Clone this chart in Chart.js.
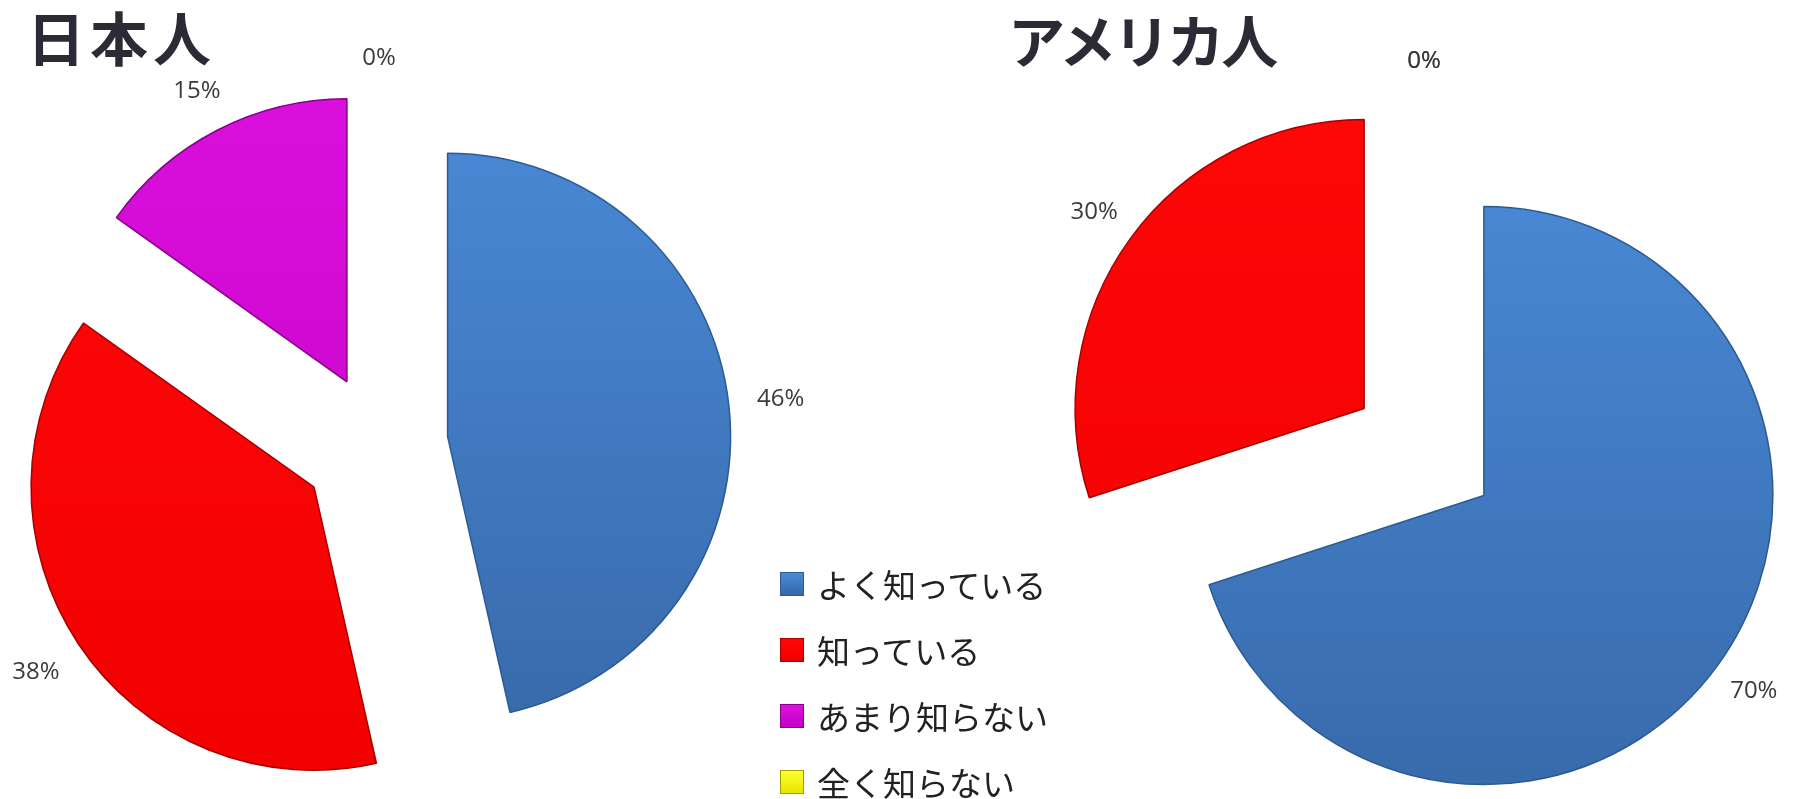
<!DOCTYPE html>
<html lang="ja">
<head>
<meta charset="utf-8">
<title>日本人・アメリカ人</title>
<script src="https://cdn.jsdelivr.net/npm/chart.js@4.4.1/dist/chart.umd.min.js"></script>
<style>
  html, body { margin: 0; padding: 0; background: #fff; }
  body { width: 1797px; height: 799px; position: relative; overflow: hidden; font-family: "Noto Sans CJK JP", sans-serif; }
  canvas { position: absolute; top: 0; }
  #jpChart { left: 0; }
  #usChart { left: 900px; }
  .title { position: absolute; font-weight: 700; color: #2b2b36; line-height: 60px; white-space: nowrap; }
  #jpTitle { left: 27px; top: 6px; font-size: 58px; letter-spacing: 5px; }
  #usTitle { left: 1008px; top: 8px; font-size: 57px; letter-spacing: -3px; }
  #legend { position: absolute; left: 780px; top: 551px; }
  .item { display: flex; align-items: center; height: 66px; }
  .swatch { width: 22px; height: 22px; border: 1px solid; margin-right: 13px; box-sizing: content-box; }
  .item span { font-size: 33px; color: #222; line-height: 40px; }
</style>
</head>
<body>
<div class="title" id="jpTitle"></div>
<div class="title" id="usTitle"></div>
<canvas id="jpChart" width="900" height="799"></canvas>
<canvas id="usChart" width="897" height="799"></canvas>
<div id="legend"></div>
<script>
var categories = ['よく知っている', '知っている', 'あまり知らない', '全く知らない'];
var japanValues = [46, 38, 15, 0];
var americaValues = [70, 30, 0, 0];
var japanTitle = '日本人';
var americaTitle = 'アメリカ人';

// light / dark / edge per category
var sliceColors = [
  { top: '#4b8bd9', bottom: '#3667a6', edge: '#2c5a92' },
  { top: '#ff0808', bottom: '#f00000', edge: '#a80000' },
  { top: '#dc12de', bottom: '#c400c6', edge: '#860088' },
  { top: '#ffff30', bottom: '#e6e600', edge: '#a0a000' }
];

document.getElementById('jpTitle').textContent = japanTitle;
document.getElementById('usTitle').textContent = americaTitle;

// legend
var legend = document.getElementById('legend');
categories.forEach(function(name, i) {
  var row = document.createElement('div');
  row.className = 'item';
  var sw = document.createElement('div');
  sw.className = 'swatch';
  sw.style.background = 'linear-gradient(' + sliceColors[i].top + ',' + sliceColors[i].bottom + ')';
  sw.style.borderColor = sliceColors[i].edge;
  var label = document.createElement('span');
  label.textContent = name;
  row.appendChild(sw);
  row.appendChild(label);
  legend.appendChild(row);
});

function sliceFill(context) {
  var c = sliceColors[context.dataIndex];
  var chart = context.chart;
  var area = chart.chartArea;
  if (!area) return c.top;
  var cy = (area.top + area.bottom) / 2;
  var r = chart.options.radius + 80;
  var g = chart.ctx.createLinearGradient(0, cy - r, 0, cy + r);
  g.addColorStop(0, c.top);
  g.addColorStop(1, c.bottom);
  return g;
}

function sliceEdge(context) {
  return sliceColors[context.dataIndex].edge;
}

// pulls every slice out along its middle angle, then writes the percent outside it
var explodePlugin = {
  id: 'explode',
  beforeDatasetDraw: function(chart, args, opts) {
    var ctx = chart.ctx;
    args.meta.data.forEach(function(arc, i) {
      var mid = (arc.startAngle + arc.endAngle) / 2;
      var dist = opts.distance[i];
      ctx.save();
      ctx.translate(Math.cos(mid) * dist, Math.sin(mid) * dist);
      arc.draw(ctx, chart.chartArea);
      ctx.restore();
    });
    return false;
  },
  afterDatasetsDraw: function(chart, args, opts) {
    var ctx = chart.ctx;
    var meta = chart.getDatasetMeta(0);
    var values = chart.data.datasets[0].data;
    ctx.save();
    ctx.font = '24px "Open Sans"';
    ctx.fillStyle = '#3a3a3a';
    ctx.textAlign = 'center';
    ctx.textBaseline = 'middle';
    meta.data.forEach(function(arc, i) {
      var mid = (arc.startAngle + arc.endAngle) / 2;
      var text = values[i] + '%';
      var w = ctx.measureText(text).width;
      var c = Math.cos(mid), s = Math.sin(mid);
      var d = arc.outerRadius + opts.distance[i] + opts.gap + Math.abs(c) * w / 2 + Math.abs(s) * 6;
      ctx.fillText(text, arc.x + c * d, arc.y + s * d);
    });
    ctx.restore();
  }
};

function makePie(id, values, radius, distance, gap, padding) {
  return new Chart(document.getElementById(id), {
    type: 'pie',
    data: {
      labels: categories,
      datasets: [{
        data: values,
        backgroundColor: sliceFill,
        borderColor: sliceEdge,
        borderWidth: 1.5
      }]
    },
    options: {
      responsive: false,
      animation: false,
      devicePixelRatio: 1,
      radius: radius,
      layout: { padding: padding },
      plugins: {
        legend: { display: false },
        tooltip: { enabled: false },
        explode: { distance: distance, gap: gap }
      }
    },
    plugins: [explodePlugin]
  });
}

makePie('jpChart', japanValues, 283, [69, 78, 70, 69], 28, { left: 0, right: 142, top: 89, bottom: 0 });
makePie('usChart', americaValues, 289, [74, 74, 74, 74], 22, { left: 151, right: 0, top: 105, bottom: 0 });
</script>
</body>
</html>
